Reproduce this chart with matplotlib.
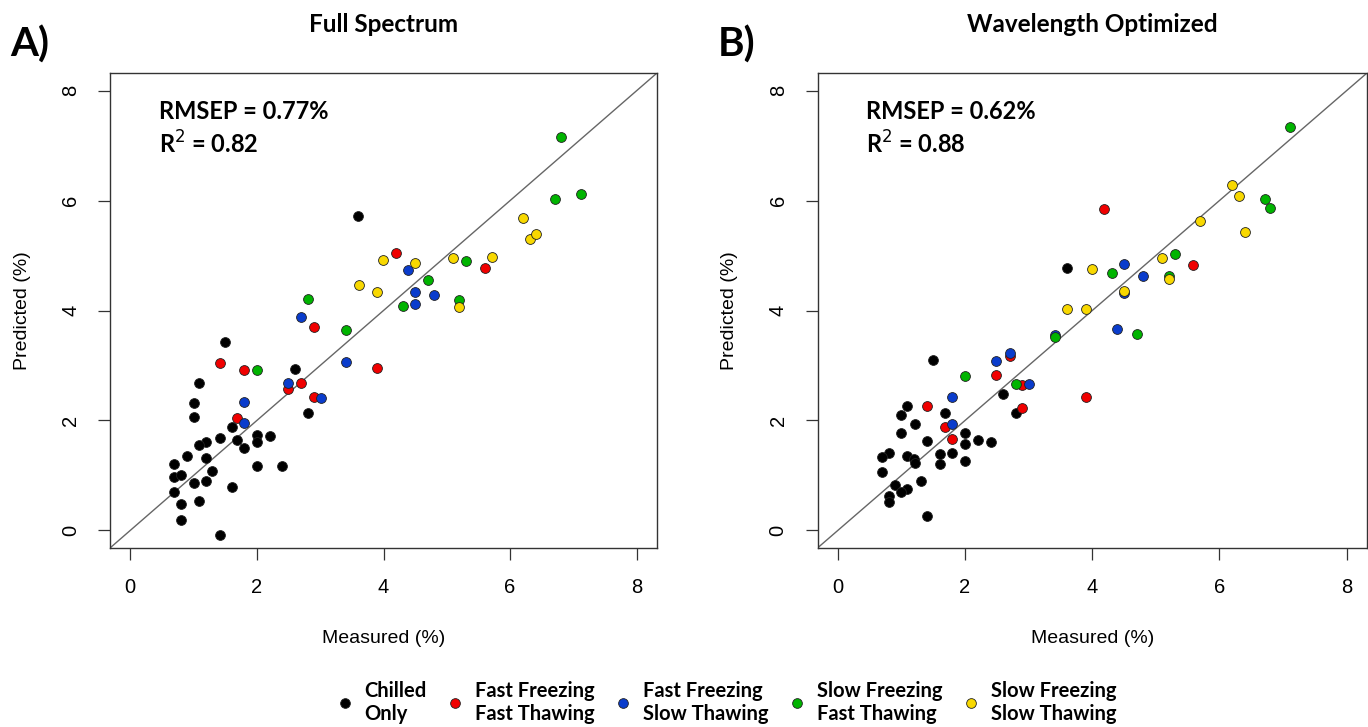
import numpy as np
import matplotlib.pyplot as plt
from matplotlib.lines import Line2D

# ---- data (measured, predicted) ----
groups = ["Chilled\nOnly", "Fast Freezing\nFast Thawing", "Fast Freezing\nSlow Thawing",
          "Slow Freezing\nFast Thawing", "Slow Freezing\nSlow Thawing"]
colors = ["#000000", "#F00000", "#0a3ccc", "#00b400", "#f8d800"]

# Panel A: full spectrum
a_chill_x = [3.6, 1.49, 1.09, 1.0, 1.0, 2.6, 2.8, 1.6, 1.41, 1.69, 1.2, 1.09, 2.0, 2.0, 2.21, 1.8,
             0.89, 0.69, 1.2, 1.29, 0.69, 0.8, 1.0, 1.2, 2.0, 2.4, 0.69, 0.8, 1.09, 1.6, 0.8, 1.41]
a_chill_y = [5.72, 3.42, 2.69, 2.31, 2.07, 2.93, 2.13, 1.88, 1.68, 1.64, 1.6, 1.55, 1.73, 1.6, 1.71, 1.49,
             1.36, 1.2, 1.31, 1.08, 0.98, 1.0, 0.86, 0.89, 1.18, 1.18, 0.69, 0.48, 0.54, 0.79, 0.19, -0.09]
a_ffft_x = [4.19, 5.6, 2.9, 1.41, 1.8, 3.9, 2.7, 2.49, 2.9, 1.69]
a_ffft_y = [5.04, 4.77, 3.7, 3.05, 2.91, 2.95, 2.69, 2.58, 2.43, 2.05]
a_ffst_x = [4.39, 4.5, 4.5, 4.8, 2.7, 3.41, 2.49, 3.01, 1.8, 1.8]
a_ffst_y = [4.73, 4.34, 4.11, 4.28, 3.88, 3.07, 2.69, 2.4, 2.34, 1.96]
a_sfft_x = [6.8, 7.12, 6.71, 5.3, 4.7, 5.2, 4.31, 2.8, 3.41, 2.0]
a_sfft_y = [7.15, 6.12, 6.03, 4.9, 4.55, 4.2, 4.09, 4.21, 3.65, 2.91]
a_sfst_x = [6.2, 6.31, 6.41, 5.71, 5.1, 3.99, 4.5, 3.61, 3.9, 5.2]
a_sfst_y = [5.69, 5.3, 5.39, 4.98, 4.95, 4.91, 4.86, 4.47, 4.34, 4.07]

# Panel B: wavelength optimized
b_chill_x = [3.61, 1.49, 1.09, 1.0, 1.21, 1.0, 2.6, 2.8, 1.69, 2.0, 1.4, 2.2, 2.41, 2.0, 1.61, 1.8,
             0.81, 0.69, 1.09, 1.2, 1.21, 1.61, 2.0, 0.69, 1.3, 0.9, 1.09, 1.0, 0.81, 0.81, 1.4]
b_chill_y = [4.77, 3.1, 2.26, 2.1, 1.93, 1.77, 2.48, 2.14, 2.13, 1.78, 1.62, 1.64, 1.6, 1.57, 1.39, 1.41,
             1.41, 1.34, 1.36, 1.3, 1.22, 1.2, 1.26, 1.07, 0.89, 0.83, 0.75, 0.69, 0.63, 0.51, 0.27]
b_ffft_x = [4.19, 5.59, 1.4, 2.49, 2.7, 2.9, 3.9, 2.9, 1.69, 1.8]
b_ffft_y = [5.84, 4.83, 2.26, 2.82, 3.17, 2.64, 2.43, 2.23, 1.88, 1.66]
b_ffst_x = [4.5, 4.8, 4.5, 4.39, 2.7, 2.49, 3.01, 1.8, 1.8, 3.41]
b_ffst_y = [4.85, 4.62, 4.32, 3.67, 3.22, 3.08, 2.67, 2.42, 1.94, 3.55]
b_sfft_x = [7.11, 6.71, 6.8, 5.3, 4.31, 5.2, 4.7, 3.41, 2.8, 2.0]
b_sfft_y = [7.34, 6.03, 5.86, 5.02, 4.68, 4.62, 3.58, 3.52, 2.67, 2.8]
b_sfst_x = [6.2, 6.3, 5.7, 6.4, 5.1, 4.0, 5.2, 4.5, 3.61, 3.9]
b_sfst_y = [6.28, 6.09, 5.63, 5.43, 4.96, 4.75, 4.58, 4.36, 4.03, 4.03]

panels = [
    ("Full Spectrum", "A)", "RMSEP = 0.77%", "R$^2$ = 0.82",
     [(a_chill_x, a_chill_y), (a_ffft_x, a_ffft_y), (a_ffst_x, a_ffst_y),
      (a_sfft_x, a_sfft_y), (a_sfst_x, a_sfst_y)]),
    ("Wavelength Optimized", "B)", "RMSEP = 0.62%", "R$^2$ = 0.88",
     [(b_chill_x, b_chill_y), (b_ffft_x, b_ffft_y), (b_ffst_x, b_ffst_y),
      (b_sfft_x, b_sfft_y), (b_sfst_x, b_sfst_y)]),
]
ticks = [0, 2, 4, 6, 8]

W, H = 1368, 727
fig = plt.figure(figsize=(W / 100, H / 100), dpi=100)
axes_px = [(110, 657), (817.5, 1367)]
top_px, bot_px = 73, 548

bold_font = "Lato"
reg_font = "Liberation Sans"

for (title, tag, rmsep, r2, series), (l, r) in zip(panels, axes_px):
    ax = fig.add_axes([l / W, (H - bot_px) / H, (r - l) / W, (bot_px - top_px) / H])
    ax.set_xlim(-0.32, 8.32)
    ax.set_ylim(-0.32, 8.32)
    ax.axline((0, 0), slope=1, color="#666666", lw=1.0, zorder=1)
    for (xs, ys), c in zip(series, colors):
        ax.scatter(xs, ys, s=50, c=c, edgecolors="#222222", linewidths=0.6, zorder=3)
    ax.set_xticks(ticks)
    ax.set_yticks(ticks)
    ax.tick_params(direction="out", length=8.5, width=0.9, color="#333333", pad=13,
                   labelsize=14.5)
    for lab in ax.get_xticklabels() + ax.get_yticklabels():
        lab.set_fontfamily(reg_font)
    for lab in ax.get_yticklabels():
        lab.set_rotation(90)
        lab.set_va("center")
    for sp in ax.spines.values():
        sp.set_linewidth(1.0)
        sp.set_color("#333333")
    ax.set_xlabel("Measured (%)", fontsize=14, fontfamily=reg_font, labelpad=24)
    ax.set_ylabel("Predicted (%)", fontsize=14, fontfamily=reg_font, labelpad=22)
    ax.text(0.45, 7.62, rmsep, fontsize=17, fontweight="bold", fontfamily=bold_font,
            va="center", ha="left")
    ax.text(0.45, 7.02, r2, fontsize=17, fontweight="bold", fontfamily=bold_font,
            va="center", ha="left")
    cx = (l + r) / 2 / W
    fig.text(cx, 1 - 24 / H, title, fontsize=17.5, fontweight="bold", fontfamily=bold_font,
             ha="center", va="center")
    fig.text((l - 100) / W, 1 - 45 / H, tag, fontsize=29, fontweight="bold",
             fontfamily=bold_font, ha="left", va="center")

handles = [Line2D([], [], ls="", marker="o", markersize=7, markerfacecolor=c,
                  markeredgecolor="#222222", markeredgewidth=0.6) for c in colors]
fig.legend(handles, groups, loc="center", bbox_to_anchor=(0.531, 0.034), ncol=5,
           frameon=False, handlelength=0.8, handletextpad=0.6, columnspacing=1.0,
           prop={"family": bold_font, "weight": "bold", "size": 14.5})

fig.savefig("out.png", dpi=100)
